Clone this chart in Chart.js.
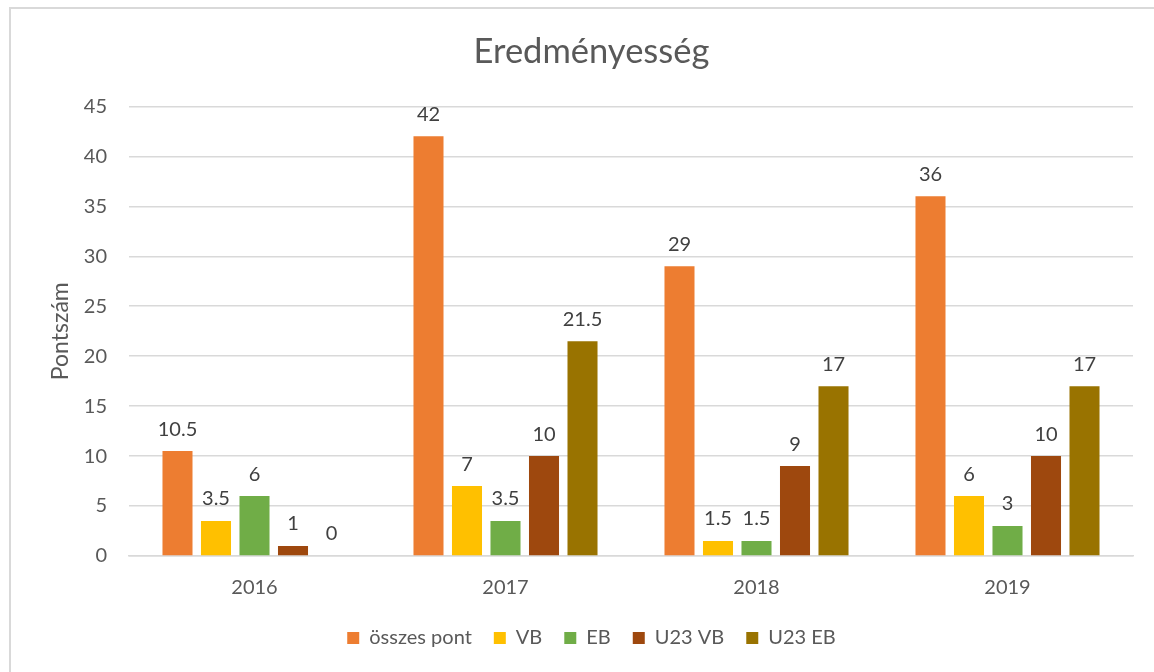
<!DOCTYPE html>
<html>
<head>
<meta charset="utf-8">
<script src="https://cdn.jsdelivr.net/npm/chart.js@4"></script>
<style>
    html, body { margin: 0; padding: 0; background: #fff; }
    #wrap { position: relative; width: 1154px; height: 672px; overflow: hidden; }
    #frame { position: absolute; left: 9px; top: 7px; width: 1160px; height: 680px; border: 2px solid #d9d9d9; box-sizing: border-box; }
    canvas { position: absolute; left: 0; top: 0; }
</style>
</head>
<body>
<div id="wrap">
    <div id="frame"></div>
    <canvas id="barChart" width="1154" height="672"></canvas>
</div>
<script>
const years    = ['2016', '2017', '2018', '2019'];
const osszes   = [10.5, 42, 29, 36];
const vb       = [3.5, 7, 1.5, 6];
const eb       = [6, 3.5, 1.5, 3];
const u23vb    = [1, 10, 9, 10];
const u23eb    = [0, 21.5, 17, 17];
const yTicks   = [0, 5, 10, 15, 20, 25, 30, 35, 40, 45];

const FONT = 'Lato, "Open Sans", sans-serif';
const textColor = '#595959';

// értékek kiírása az oszlopok fölé + a tengelycím
const valueLabels = {
    id: 'valueLabels',
    afterDatasetsDraw(chart) {
        const ctx = chart.ctx;
        const area = chart.chartArea;
        ctx.save();
        ctx.font = '20px ' + FONT;
        ctx.fillStyle = '#404040';
        ctx.textAlign = 'center';
        ctx.textBaseline = 'bottom';
        chart.data.datasets.forEach((ds, i) => {
            chart.getDatasetMeta(i).data.forEach((bar, j) => {
                ctx.fillText(String(ds.data[j]), bar.x, bar.y - 12);
            });
        });

        ctx.translate(61, (area.top + area.bottom) / 2);
        ctx.rotate(-Math.PI / 2);
        ctx.font = '23px ' + FONT;
        ctx.fillStyle = textColor;
        ctx.textBaseline = 'middle';
        ctx.fillText('Pontszám', 0, 0);
        ctx.restore();
    }
};

const bc = document.getElementById('barChart');

new Chart(bc, {
    type: 'bar',
    data: {
        labels: years,
        datasets: [
            { label: 'összes pont', data: osszes, backgroundColor: '#ED7D31' },
            { label: 'VB',          data: vb,     backgroundColor: '#FFC000' },
            { label: 'EB',          data: eb,     backgroundColor: '#70AD47' },
            { label: 'U23 VB',      data: u23vb,  backgroundColor: '#9E480E' },
            { label: 'U23 EB',      data: u23eb,  backgroundColor: '#997300' },
        ]
    },
    options: {
        responsive: false,
        animation: false,
        layout: { padding: { left: 50, right: 21, top: 0, bottom: 14 } },
        datasets: {
            bar: { categoryPercentage: 0.767, barPercentage: 0.78 }
        },
        scales: {
            x: {
                grid: { display: false, drawTicks: false },
                border: { display: true, color: '#d9d9d9', width: 1.5 },
                ticks: { color: textColor, font: { family: FONT, size: 20 }, padding: 20 },
                afterFit: s => { s.height = 50; }
            },
            y: {
                min: 0,
                max: 45,
                afterBuildTicks: s => { s.ticks = yTicks.map(v => ({ value: v })); },
                grid: { color: '#d9d9d9', lineWidth: 1.5, drawTicks: false },
                border: { display: false },
                ticks: { color: textColor, font: { family: FONT, size: 20 }, padding: 22 },
                afterFit: s => { s.width = 79; }
            }
        },
        plugins: {
            title: {
                display: true,
                text: 'Eredményesség',
                color: textColor,
                font: { family: FONT, size: 34.5, weight: 'normal' },
                padding: { top: 31, bottom: 34 }
            },
            legend: {
                display: true,
                position: 'bottom',
                labels: {
                    color: textColor,
                    font: { family: FONT, size: 20 },
                    boxWidth: 12,
                    boxHeight: 12,
                    padding: 22
                }
            },
            tooltip: { enabled: false }
        }
    },
    plugins: [valueLabels]
});
</script>
</body>
</html>
